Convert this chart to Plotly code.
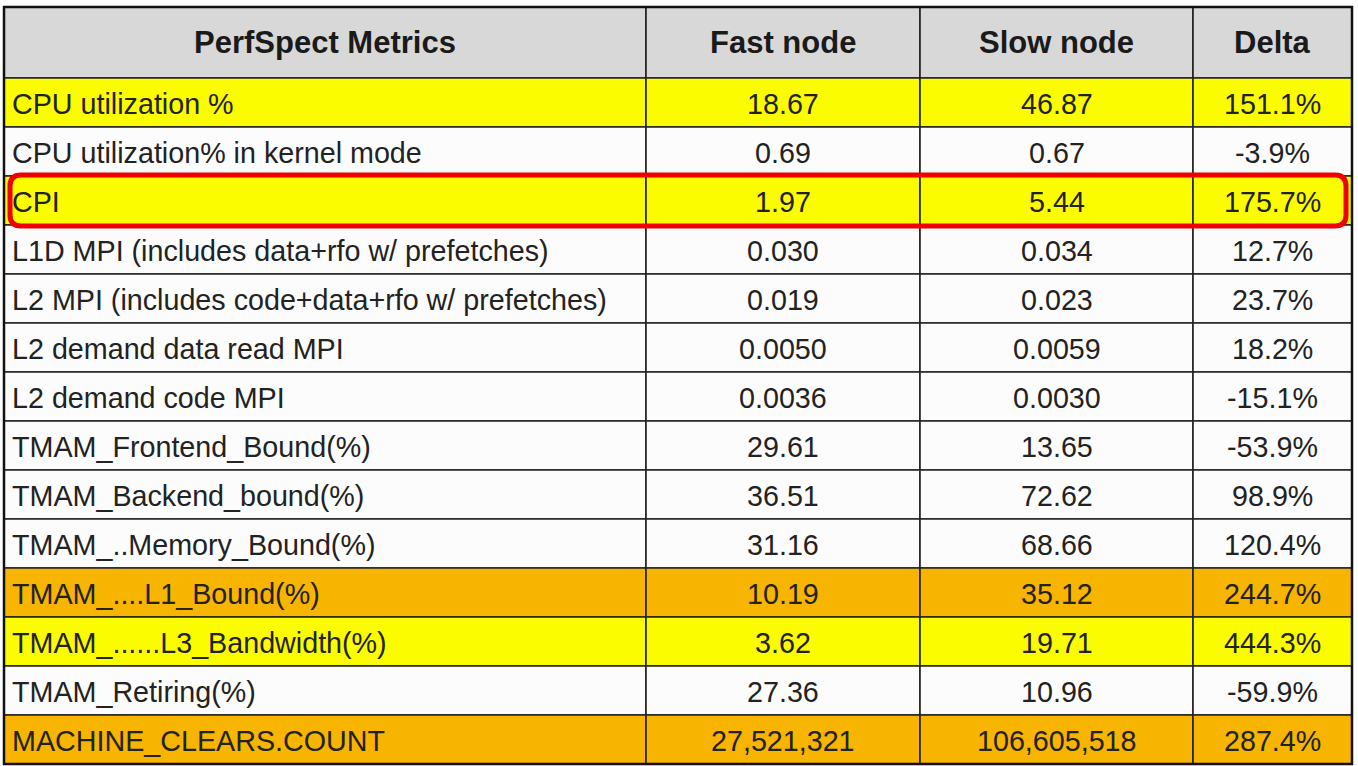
import plotly.graph_objects as go

W, H = 1358, 766

# table contents
metrics = [
    "CPU utilization %",
    "CPU utilization% in kernel mode",
    "CPI",
    "L1D MPI (includes data+rfo w/ prefetches)",
    "L2 MPI (includes code+data+rfo w/ prefetches)",
    "L2 demand data read MPI",
    "L2 demand code MPI",
    "TMAM_Frontend_Bound(%)",
    "TMAM_Backend_bound(%)",
    "TMAM_..Memory_Bound(%)",
    "TMAM_....L1_Bound(%)",
    "TMAM_......L3_Bandwidth(%)",
    "TMAM_Retiring(%)",
    "MACHINE_CLEARS.COUNT",
]
fast_node = ["18.67", "0.69", "1.97", "0.030", "0.019", "0.0050", "0.0036",
             "29.61", "36.51", "31.16", "10.19", "3.62", "27.36", "27,521,321"]
slow_node = ["46.87", "0.67", "5.44", "0.034", "0.023", "0.0059", "0.0030",
             "13.65", "72.62", "68.66", "35.12", "19.71", "10.96", "106,605,518"]
delta = ["151.1%", "-3.9%", "175.7%", "12.7%", "23.7%", "18.2%", "-15.1%",
         "-53.9%", "98.9%", "120.4%", "244.7%", "444.3%", "-59.9%", "287.4%"]
headers = ["PerfSpect Metrics", "Fast node", "Slow node", "Delta"]

# row highlight: y = yellow, o = orange, None = plain
highlight = ["y", None, "y", None, None, None, None, None, None, None, "o", "y", None, "o"]
boxed_row = 2  # the CPI row has a red frame round it

COLORS = {"y": "#fcfc00", "o": "#f7b400", None: "#fcfcfc"}
HEADER_FILL = "#d8d8d8"
GRID = "#222222"
FONT = "Liberation Sans, Arial, sans-serif"

# geometry (axis units == pixels)
col_widths = [642, 274, 273, 159]
left, top = 4, 7
header_h, row_h = 71, 49

col_edges = [left]
for w in col_widths:
    col_edges.append(col_edges[-1] + w)
row_edges = [top, top + header_h]
for _ in metrics:
    row_edges.append(row_edges[-1] + row_h)

columns = [metrics, fast_node, slow_node, delta]

fig = go.Figure()

# header row
for c, h in enumerate(headers):
    x0, x1 = col_edges[c], col_edges[c + 1]
    y0, y1 = row_edges[0], row_edges[1]
    fig.add_shape(type="rect", x0=x0, x1=x1, y0=y0, y1=y1,
                  fillcolor=HEADER_FILL, line=dict(color=GRID, width=1.6), layer="below")
    fig.add_annotation(x=(x0 + x1) / 2, y=(y0 + y1) / 2, text=f"<b>{h}</b>",
                       showarrow=False, xanchor="center", yanchor="middle",
                       font=dict(family=FONT, size=31, color="#1a1a1a"))

# body rows
for r in range(len(metrics)):
    y0, y1 = row_edges[r + 1], row_edges[r + 2]
    fill = COLORS[highlight[r]]
    for c, col in enumerate(columns):
        x0, x1 = col_edges[c], col_edges[c + 1]
        fig.add_shape(type="rect", x0=x0, x1=x1, y0=y0, y1=y1,
                      fillcolor=fill, line=dict(color=GRID, width=1.6), layer="below")
        if c == 0:
            ax, anchor = x0 + 6, "left"
        else:
            ax, anchor = (x0 + x1) / 2, "center"
        fig.add_annotation(x=ax, y=(y0 + y1) / 2 + 1, text=col[r],
                           showarrow=False, xanchor=anchor, yanchor="middle",
                           font=dict(family=FONT, size=28.7, color="#222222"))

# outer frame
fig.add_shape(type="rect", x0=col_edges[0], x1=col_edges[-1],
              y0=row_edges[0], y1=row_edges[-1],
              line=dict(color="#111111", width=2.5))

# rounded red frame round the boxed row
bx0, bx1 = 10, 1346
by0 = row_edges[boxed_row + 1] - 1
by1 = row_edges[boxed_row + 2] + 1
rad = 11
path = (
    f"M {bx0 + rad},{by0} L {bx1 - rad},{by0} Q {bx1},{by0} {bx1},{by0 + rad} "
    f"L {bx1},{by1 - rad} Q {bx1},{by1} {bx1 - rad},{by1} "
    f"L {bx0 + rad},{by1} Q {bx0},{by1} {bx0},{by1 - rad} "
    f"L {bx0},{by0 + rad} Q {bx0},{by0} {bx0 + rad},{by0} Z"
)
fig.add_shape(type="path", path=path, line=dict(color="#f00000", width=5))

fig.update_xaxes(range=[0, W], visible=False, fixedrange=True)
fig.update_yaxes(range=[H, 0], visible=False, fixedrange=True)
fig.update_layout(
    width=W, height=H,
    margin=dict(l=0, r=0, t=0, b=0),
    paper_bgcolor="white",
    plot_bgcolor="white",
    showlegend=False,
)

# drop the browser's default 8px body margin so the figure sits at the page origin
fig.write_html("out.html", config={"displayModeBar": False},
               post_script="document.body.style.margin='0';")
